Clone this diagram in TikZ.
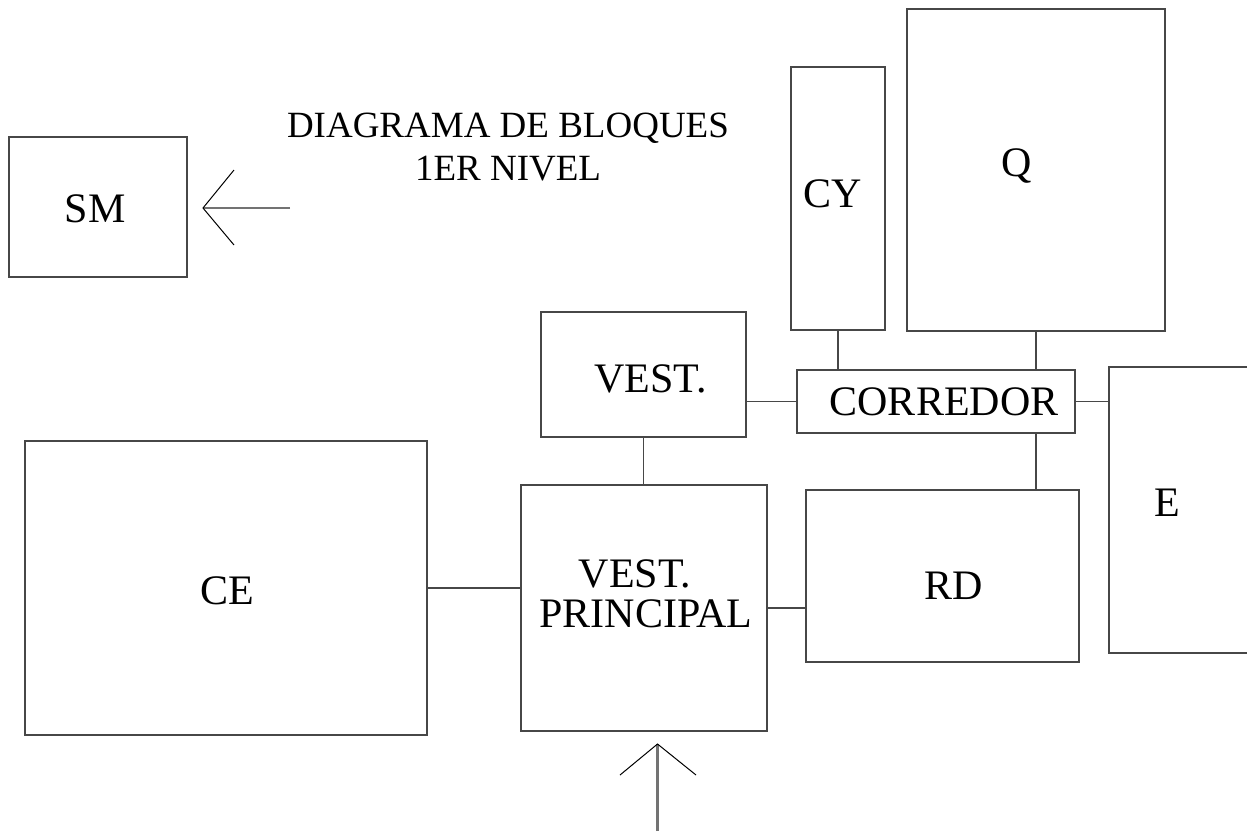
\documentclass[tikz,border=0pt]{standalone}
\usepackage{fontspec}
\setmainfont{Liberation Serif}
\begin{document}
\begin{tikzpicture}[x=1pt,y=-1pt,
 blk/.style={draw=black!72, line width=1.3pt, inner sep=0pt},
 lbl/.style={anchor=base, inner sep=0pt, font=\fontsize{42}{40}\selectfont},
 ttl/.style={anchor=north, inner sep=0pt, font=\fontsize{37}{43}\selectfont, align=center},
 wire/.style={draw=black!72, line width=1.3pt},
 shaft/.style={draw=black!55, line width=2.2pt},
 barb/.style={draw=black, line width=1pt}]
\useasboundingbox (0,0) rectangle (1247,831);
\clip (0,0) rectangle (1247,831);
% boxes
\node[blk, minimum width=178pt, minimum height=140pt] (SM) at (98,207) {};
\node[blk, minimum width=94pt, minimum height=263pt] (CY) at (838,198.5) {};
\node[blk, minimum width=258pt, minimum height=322pt] (Q) at (1036,170) {};
\node[blk, minimum width=205pt, minimum height=125pt] (VEST) at (643.5,374.5) {};
\node[blk, minimum width=278pt, minimum height=63pt] (COR) at (936,401.5) {};
\node[blk, minimum width=191pt, minimum height=286pt] (E) at (1204.5,510) {};
\node[blk, minimum width=402pt, minimum height=294pt] (CE) at (226,588) {};
\node[blk, minimum width=246pt, minimum height=246pt] (VP) at (644,608) {};
\node[blk, minimum width=273pt, minimum height=172pt] (RD) at (942.5,576) {};
% labels
\node[ttl] (title) at (508,113) {DIAGRAMA DE BLOQUES\\1ER NIVEL};
\node[lbl] (tSM) at (95,222) {SM};
\node[lbl] (tCY) at (832.5,207) {CY};
\node[lbl] (tQ) at (1017,176) {Q};
\node[lbl] (tVEST) at (650.5,392) {VEST.};
\node[lbl] (tCOR) at (944,415) {CORREDOR};
\node[lbl] (tE) at (1167,516) {E};
\node[lbl] (tCE) at (227,604) {CE};
\node[lbl] (tRD) at (954,599) {RD};
\node[lbl] (tVP1) at (635,587) {VEST.};
\node[lbl] (tVP2) at (646,627) {PRINCIPAL};
% connectors
\draw[wire] (CY.south) -- (CY.south |- COR.north);
\draw[wire] (Q.south) -- (Q.south |- COR.north);
\draw[wire] (COR.west -| VEST.east) -- (COR.west);
\draw[wire] (COR.east) -- (COR.east -| E.west);
\draw[wire] (COR.south -| Q.south) -- (RD.north -| Q.south);
\draw[wire] (VEST.south) -- (VEST.south |- VP.north);
\draw[wire] (CE.east) -- (CE.east -| VP.west);
\draw[wire] (VP.east) -- (VP.east -| RD.west);
% arrows
\coordinate (h1) at (290,208);
\coordinate (h1tip) at (203,208);
\coordinate (h1a) at (234,170);
\coordinate (h1b) at (234,245);
\draw[shaft] (h1) -- (h1tip);
\draw[barb] (h1a) -- (h1tip) -- (h1b);
\coordinate (v1) at (657.5,831);
\coordinate (v1tip) at (657.5,744);
\coordinate (v1a) at (620,775);
\coordinate (v1b) at (696,775);
\draw[shaft] (v1) -- (v1tip);
\draw[barb] (v1a) -- (v1tip) -- (v1b);
\end{tikzpicture}
\end{document}
